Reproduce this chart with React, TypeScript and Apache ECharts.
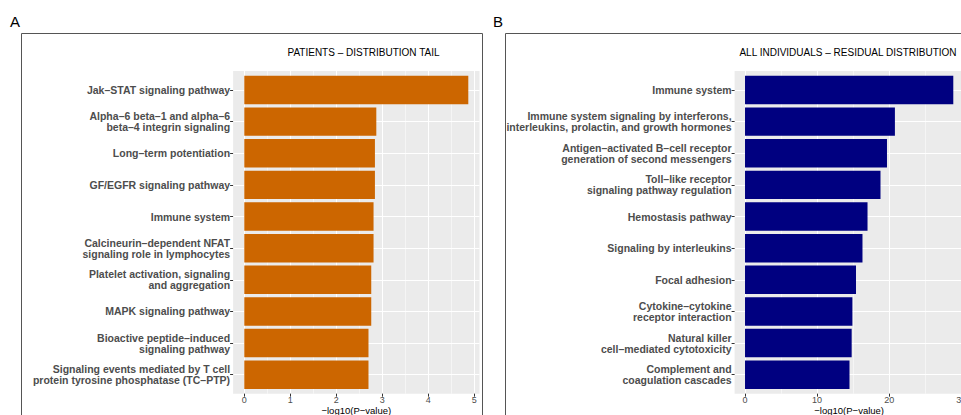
import React, { useEffect, useRef } from "react";
import * as echarts from "echarts";

const patientCategories = [
  "Jak–STAT signaling pathway",
  "Alpha–6 beta–1 and alpha–6\nbeta–4 integrin signaling",
  "Long–term potentiation",
  "GF/EGFR signaling pathway",
  "Immune system",
  "Calcineurin–dependent NFAT\nsignaling role in lymphocytes",
  "Platelet activation, signaling\nand aggregation",
  "MAPK signaling pathway",
  "Bioactive peptide–induced\nsignaling pathway",
  "Signaling events mediated by T cell\nprotein tyrosine phosphatase (TC–PTP)",
];
const patientValues = [4.87, 2.87, 2.84, 2.84, 2.81, 2.81, 2.76, 2.76, 2.7, 2.7];
const patientTicks = [0, 1, 2, 3, 4, 5];
const patientMinorTicks = [0.5, 1.5, 2.5, 3.5, 4.5];

const allCategories = [
  "Immune system",
  "Immune system signaling by interferons,\ninterleukins, prolactin, and growth hormones",
  "Antigen–activated B–cell receptor\ngeneration of second messengers",
  "Toll–like receptor\nsignaling pathway regulation",
  "Hemostasis pathway",
  "Signaling by interleukins",
  "Focal adhesion",
  "Cytokine–cytokine\nreceptor interaction",
  "Natural killer\ncell–mediated cytotoxicity",
  "Complement and\ncoagulation cascades",
];
const allValues = [28.9, 20.8, 19.7, 18.8, 17.0, 16.3, 15.4, 14.9, 14.8, 14.5];
const allTicks = [0, 10, 20, 30];
const allMinorTicks = [5, 15, 25];

const titleA = "PATIENTS – DISTRIBUTION TAIL";
const titleB = "ALL INDIVIDUALS – RESIDUAL DISTRIBUTION";
const xName = "−log10(P−value)";

const FONT = "'Liberation Sans', Arial, Helvetica, sans-serif";
const BG = "#EBEBEB";

// layout (pixels)
const BAND = 31.63;
const FIRST_CENTER = 90.0;
const N = 10;
const BG_TOP = FIRST_CENTER - 0.6 * BAND;
const BG_H = (N - 1 + 1.2) * BAND;
const BAR_TOP = FIRST_CENTER - 0.5 * BAND;
const BAR_H = N * BAND;

function buildPanel(
  idx: number,
  left: number,
  width: number,
  cats: string[],
  vals: number[],
  ticks: number[],
  minor: number[],
  color: string
) {
  const mx = Math.max(...vals);
  const pad = mx * 0.05;
  const xmin = -pad;
  const xmax = mx + pad;
  const g0 = idx * 2;
  const g1 = idx * 2 + 1;
  const grids = [
    { left, width, top: BG_TOP, height: BG_H, show: true, backgroundColor: BG, borderWidth: 0, containLabel: false, outerBoundsMode: "none" },
    { left, width, top: BAR_TOP, height: BAR_H, show: false, containLabel: false, outerBoundsMode: "none" },
  ];
  const xAxes: any[] = [
    {
      gridIndex: g0,
      type: "value",
      position: "bottom",
      min: xmin,
      max: xmax,
      name: xName,
      nameLocation: "middle",
      nameGap: 12.5,
      nameMoveOverlap: false,
      nameTextStyle: { fontFamily: FONT, fontSize: 9.5, color: "#000", lineHeight: 9.5 },
      axisLine: { show: false, onZero: false },
      axisTick: { show: true, length: 3, customValues: ticks, lineStyle: { color: "#333", width: 1 } },
      axisLabel: { show: true, customValues: ticks, margin: 2, fontFamily: FONT, fontSize: 9, lineHeight: 9, color: "#4D4D4D" },
      splitLine: { show: true, lineStyle: { color: "#fff", width: 1 } },
    },
    {
      gridIndex: g0,
      type: "value",
      position: "top",
      min: xmin,
      max: xmax,
      axisLine: { show: false, onZero: false },
      axisTick: { show: false, customValues: minor },
      axisLabel: { show: false, customValues: minor },
      splitLine: { show: true, lineStyle: { color: "#fff", width: 0.5 } },
    },
    {
      gridIndex: g1,
      type: "value",
      min: xmin,
      max: xmax,
      show: false,
      axisLine: { show: false, onZero: false },
      axisLabel: { show: false },
      axisTick: { show: false },
      splitLine: { show: false },
    },
  ];
  const centers = cats.map((_, i) => i);
  const yAxes: any[] = [
    {
      gridIndex: g0,
      type: "value",
      inverse: true,
      min: -0.6,
      max: cats.length - 1 + 0.6,
      axisLine: { show: false, onZero: false },
      axisTick: { show: false, customValues: centers },
      axisLabel: { show: false, customValues: centers },
      splitLine: { show: true, lineStyle: { color: "#fff", width: 1 } },
    },
    {
      gridIndex: g1,
      type: "category",
      inverse: true,
      data: cats,
      axisLine: { show: false, onZero: false },
      axisTick: { show: true, alignWithLabel: true, length: 3, lineStyle: { color: "#333", width: 1 } },
      axisLabel: {
        show: true,
        interval: 0,
        margin: 3,
        fontFamily: FONT,
        fontSize: 10.5,
        fontWeight: "bold",
        color: "#4D4D4D",
        lineHeight: 11,
        align: "right",
      },
      splitLine: { show: false },
    },
  ];
  const series = {
    type: "bar",
    xAxisIndex: idx * 3 + 2,
    yAxisIndex: idx * 2 + 1,
    data: vals,
    barWidth: "90%",
    itemStyle: { color },
    silent: true,
  };
  return { grids, xAxes, yAxes, series };
}

export default function App() {
  const ref = useRef<HTMLDivElement>(null);
  useEffect(() => {
    if (!ref.current) return;
    const chart = echarts.init(ref.current, undefined, { renderer: "svg" });
    const a = buildPanel(0, 233.1, 246.4, patientCategories, patientValues, patientTicks, patientMinorTicks, "#CC6600");
    const b = buildPanel(1, 734.6, 229.1, allCategories, allValues, allTicks, allMinorTicks, "#000080");
    chart.setOption({
      animation: false,
      backgroundColor: "#fff",
      grid: [...a.grids, ...b.grids],
      xAxis: [...a.xAxes, ...b.xAxes],
      yAxis: [...a.yAxes, ...b.yAxes],
      series: [a.series, b.series],
      graphic: [
        { type: "rect", shape: { x: 21.5, y: 33.5, width: 461, height: 420 }, style: { fill: "none", stroke: "#555", lineWidth: 1 }, z: 10, silent: true },
        { type: "rect", shape: { x: 505.5, y: 33.5, width: 520, height: 420 }, style: { fill: "none", stroke: "#555", lineWidth: 1 }, z: 10, silent: true },
        { type: "text", x: 10, y: 21, style: { text: "A", fontFamily: FONT, fontSize: 15, fill: "#000", textVerticalAlign: "middle" }, z: 10 },
        { type: "text", x: 493, y: 21, style: { text: "B", fontFamily: FONT, fontSize: 15, fill: "#000", textVerticalAlign: "middle" }, z: 10 },
        { type: "text", x: 363.5, y: 52, style: { text: titleA, fontFamily: FONT, fontSize: 10, fill: "#000", textAlign: "center", textVerticalAlign: "middle" }, z: 10 },
        { type: "text", x: 848, y: 52, style: { text: titleB, fontFamily: FONT, fontSize: 10, fill: "#000", textAlign: "center", textVerticalAlign: "middle" }, z: 10 },
      ],
    });
    return () => chart.dispose();
  }, []);
  return (
    <div style={{ position: "fixed", left: 0, top: 0, width: 961, height: 415, overflow: "hidden", background: "#fff" }}>
      <div ref={ref} style={{ width: 1000, height: 415 }} />
    </div>
  );
}
